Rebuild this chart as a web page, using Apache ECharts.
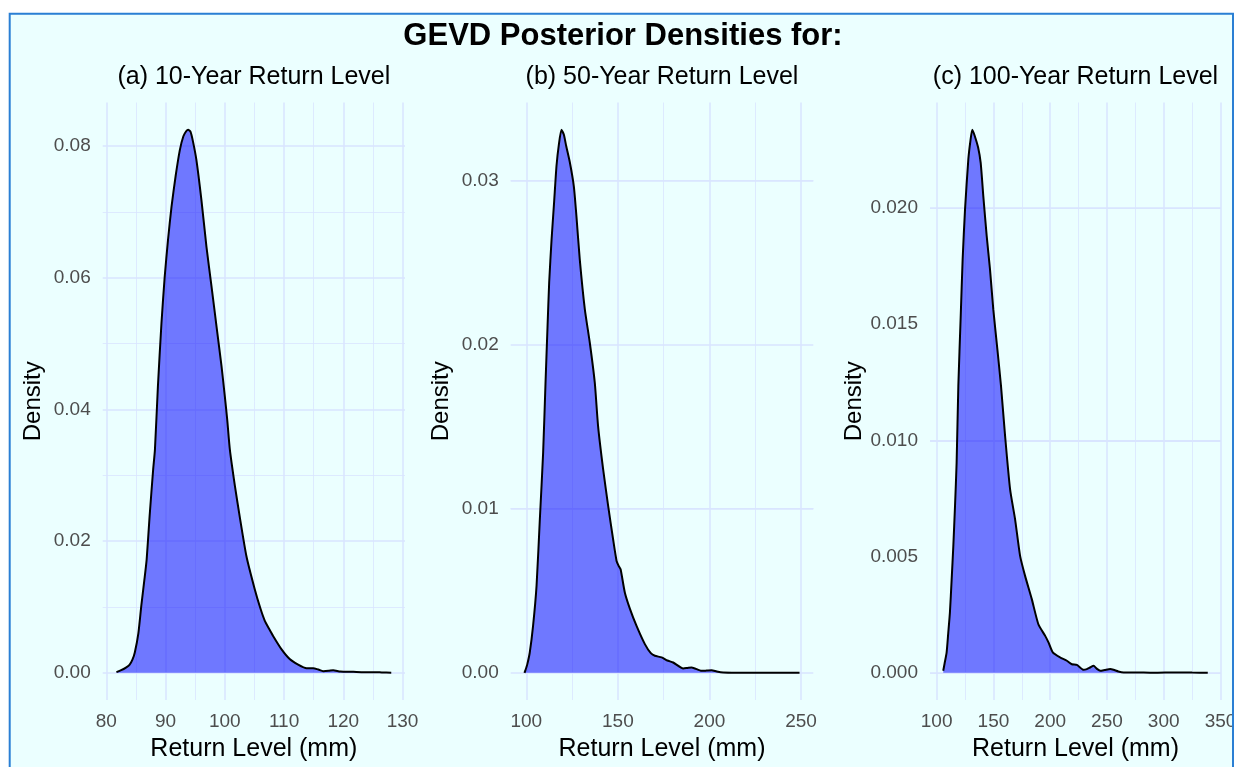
<!DOCTYPE html>
<html><head><meta charset="utf-8">
<script src="https://cdn.jsdelivr.net/npm/echarts@6/dist/echarts.min.js"></script>
<style>html,body{margin:0;padding:0;background:#fff}#c{width:1236px;height:767px}</style>
</head><body><div id="c"></div>
<script>
// ---------- data ----------
const mainTitle = 'GEVD Posterior Densities for:';
const panelTitles = ['(a) 10-Year Return Level', '(b) 50-Year Return Level', '(c) 100-Year Return Level'];
const xAxisTitle = 'Return Level (mm)';
const yAxisTitle = 'Density';

const rl10X = [81.7, 82.5, 83.3, 83.9, 84.4, 84.8, 85.4, 85.9, 86.4, 86.8, 87.3, 87.9, 88.2, 88.7, 89.3, 89.85, 90.4, 91.0, 91.7, 92.4, 93.0, 93.5, 93.8, 94.2, 94.6, 95.2, 96.05, 96.9, 97.75, 98.6, 99.45, 100.0, 100.4, 100.85, 101.7, 102.5, 103.65, 105.05, 106.0, 106.75, 107.4, 108.15, 109.55, 110.95, 112.3, 113.8, 114.9, 115.8, 116.6, 117.5, 118.3, 119.5, 121.7, 123.5, 125.6, 126.5, 128.1];
const rl10D = [0.0001, 0.0004, 0.0008, 0.0012, 0.002, 0.0031, 0.006, 0.0102, 0.014, 0.0172, 0.0238, 0.0309, 0.0339, 0.0435, 0.0531, 0.0602, 0.0657, 0.0708, 0.0755, 0.0794, 0.0815, 0.0823, 0.0825, 0.0822, 0.0808, 0.0779, 0.0718, 0.0647, 0.0587, 0.0526, 0.0465, 0.042, 0.0385, 0.0339, 0.0284, 0.0238, 0.0177, 0.0127, 0.0098, 0.0079, 0.0068, 0.0056, 0.0036, 0.0021, 0.0013, 0.0007, 0.0007, 0.0005, 0.00026, 0.0003, 0.0004, 0.0002, 0.00015, 0.0001, 0.0001, 0.00005, 0.00002];

const rl50X = [99.0, 99.5, 100.5, 101.9, 103.7, 105.6, 107.4, 109.2, 110.5, 111.6, 112.5, 113.8, 115.2, 116.5, 117.8, 119.2, 120.5, 121.8, 123.8, 125.96, 127.4, 129.2, 131.97, 134.7, 137.4, 139.2, 141.97, 144.7, 147.4, 149.3, 150.5, 151.5, 153.8, 156.6, 160.2, 164.75, 168, 170.2, 173.9, 177, 180.2, 185.7, 188, 190.3, 195.7, 198.5, 201.2, 204, 207.5, 215, 222, 235, 249.2];
const rl50D = [0, 0.00015, 0.0005, 0.00124, 0.00286, 0.0053, 0.00936, 0.01342, 0.01768, 0.0211, 0.0238, 0.0264, 0.0287, 0.0309, 0.0322, 0.0331, 0.0328, 0.0321, 0.0311, 0.02965, 0.0278, 0.0252, 0.02215, 0.0201, 0.01768, 0.01504, 0.0124, 0.01017, 0.00814, 0.00682, 0.0065, 0.00631, 0.0049, 0.0039, 0.00286, 0.00175, 0.0012, 0.00104, 0.00094, 0.00075, 0.00063, 0.00027, 0.0003, 0.00033, 0.00012, 0.00014, 0.00016, 0.00008, 0.00002, 0.00001, 0.00001, 0, 0];

const rl100X = [105.8, 107.0, 108.8, 110.2, 111.7, 113.2, 114.7, 116.2, 117.6, 119.1, 121.2, 122.9, 125.0, 127.9, 129.8, 131.4, 133.5, 136.5, 138.8, 141.1, 144.1, 147.0, 149.9, 153.5, 156.7, 160.3, 164.7, 169.1, 173.5, 177.9, 183.8, 189.6, 195.6, 198.5, 202.3, 208.8, 214.7, 219.1, 223.5, 229.4, 232.3, 235.5, 238.2, 241, 244.1, 248, 252.9, 255.8, 260, 264.7, 273.5, 291.1, 311.8, 325, 338.8];
const rl100D = [0.00009, 0.0004, 0.00088, 0.0017, 0.0026, 0.004, 0.00546, 0.0072, 0.00904, 0.01233, 0.01534, 0.01778, 0.01993, 0.02208, 0.0229, 0.02336, 0.0231, 0.0226, 0.02193, 0.0205, 0.01878, 0.01735, 0.01563, 0.01391, 0.01233, 0.01018, 0.00789, 0.0066, 0.00503, 0.00417, 0.00317, 0.00209, 0.00159, 0.00131, 0.00088, 0.00066, 0.00052, 0.00037, 0.00034, 0.00013, 0.00016, 0.00024, 0.0003, 0.00018, 0.00009, 0.00012, 0.00016, 0.00013, 0.00006, 0.00002, 0.00002, 0, 0.00002, 0.00001, 0];

const xTicks10 = [80, 90, 100, 110, 120, 130];
const xMinor10 = [85, 95, 105, 115, 125];
const yTicks10 = [0, 0.02, 0.04, 0.06, 0.08];
const yMinor10 = [0.01, 0.03, 0.05, 0.07];

const xTicks50 = [100, 150, 200, 250];
const xMinor50 = [125, 175, 225];
const yTicks50 = [0, 0.01, 0.02, 0.03];
const yMinor50 = [0.005, 0.015, 0.025];

const xTicks100 = [100, 150, 200, 250, 300, 350];
const xMinor100 = [125, 175, 225, 275, 325];
const yTicks100 = [0, 0.005, 0.010, 0.015, 0.020];
const yMinor100 = [0.0025, 0.0075, 0.0125, 0.0175, 0.0225];

// ---------- styling / layout ----------
const FONT = "'Liberation Sans', Arial, sans-serif";
const BG = '#EBFFFF';
const GRIDC = '#D9E4FF';
const LABELC = '#4D4D4D';

const panels = [
  {x: rl10X, d: rl10D, xt: xTicks10, xm: xMinor10, yt: yTicks10, ym: yMinor10, dec: 2, left: 102.7, width: 302.3},
  {x: rl50X, d: rl50D, xt: xTicks50, xm: xMinor50, yt: yTicks50, ym: yMinor50, dec: 2, left: 510.7, width: 302.6},
  {x: rl100X, d: rl100D, xt: xTicks100, xm: xMinor100, yt: yTicks100, ym: yMinor100, dec: 3, left: 930, width: 291}
];
const TOP = 102.5, HEIGHT = 597.5;

const grids = [], xAxes = [], yAxes = [], series = [], graphics = [];

panels.forEach((p, i) => {
  const xmin = Math.min(...p.x), xmax = Math.max(...p.x);
  const dmax = Math.max(...p.d);
  const ex = (xmax - xmin) * 0.05, ey = dmax * 0.05;
  grids.push({left: p.left, top: TOP, width: p.width, height: HEIGHT, outerBoundsMode: 'none', containLabel: false});
  xAxes.push({
    type: 'value', gridIndex: i, min: xmin - ex, max: xmax + ex,
    axisLine: {show: false}, axisTick: {show: false, customValues: p.xt}, splitLine: {show: false},
    axisLabel: {customValues: p.xt, color: LABELC, fontFamily: FONT, fontSize: 19, margin: 12},
    name: xAxisTitle, nameLocation: 'middle', nameGap: 37,
    nameTextStyle: {color: '#000', fontFamily: FONT, fontSize: 25}
  });
  yAxes.push({
    type: 'value', gridIndex: i, min: -ey, max: dmax + ey,
    axisLine: {show: false}, axisTick: {show: false, customValues: p.yt}, splitLine: {show: false},
    axisLabel: {customValues: p.yt, color: LABELC, fontFamily: FONT, fontSize: 19, margin: 12,
      formatter: v => Number(v).toFixed(p.dec)},
    name: yAxisTitle, nameLocation: 'middle', nameGap: 57, nameRotate: 90,
    nameTextStyle: {color: '#000', fontFamily: FONT, fontSize: 24}
  });
  const ml = [];
  p.xm.forEach(v => ml.push({xAxis: v, lineStyle: {width: 0.8}}));
  p.ym.forEach(v => ml.push({yAxis: v, lineStyle: {width: 0.8}}));
  p.xt.forEach(v => ml.push({xAxis: v, lineStyle: {width: 1.5}}));
  p.yt.forEach(v => ml.push({yAxis: v, lineStyle: {width: 1.5}}));
  series.push({
    type: 'line', xAxisIndex: i, yAxisIndex: i, data: [], z: 1, silent: true,
    markLine: {silent: true, z: 1, symbol: ['none', 'none'], label: {show: false}, animation: false,
      lineStyle: {color: GRIDC, type: 'solid'}, data: ml}
  });
  series.push({
    type: 'line', xAxisIndex: i, yAxisIndex: i, z: 10,
    data: p.x.map((v, k) => [v, p.d[k]]),
    showSymbol: false, smooth: 0.2, silent: true,
    lineStyle: {color: '#000', width: 2},
    areaStyle: {color: 'rgba(0,0,255,0.53)', opacity: 1}
  });
  graphics.push({type: 'text', x: p.left + p.width / 2, y: 77, z: 50,
    style: {text: panelTitles[i], fill: '#000', font: '25px ' + FONT, align: 'center', verticalAlign: 'middle'}});
});

graphics.push({type: 'text', x: 623, y: 36, z: 50,
  style: {text: mainTitle, fill: '#000', font: 'bold 31px ' + FONT, align: 'center', verticalAlign: 'middle'}});
// white page margins outside the framed plot area
graphics.push({type: 'rect', z: 90, shape: {x: 0, y: 0, width: 1236, height: 13}, style: {fill: '#fff'}});
graphics.push({type: 'rect', z: 90, shape: {x: 0, y: 0, width: 9, height: 767}, style: {fill: '#fff'}});
graphics.push({type: 'rect', z: 90, shape: {x: 1234, y: 0, width: 2, height: 767}, style: {fill: '#fff'}});
graphics.push({type: 'rect', z: 95, shape: {x: 9.7, y: 13.7, width: 1223.3, height: 780},
  style: {fill: 'none', stroke: '#2A7FD4', lineWidth: 2}});

const chart = echarts.init(document.getElementById('c'), null, {renderer: 'canvas'});
chart.setOption({
  animation: false,
  backgroundColor: BG,
  grid: grids, xAxis: xAxes, yAxis: yAxes, series: series,
  graphic: {elements: graphics}
});
</script></body></html>
